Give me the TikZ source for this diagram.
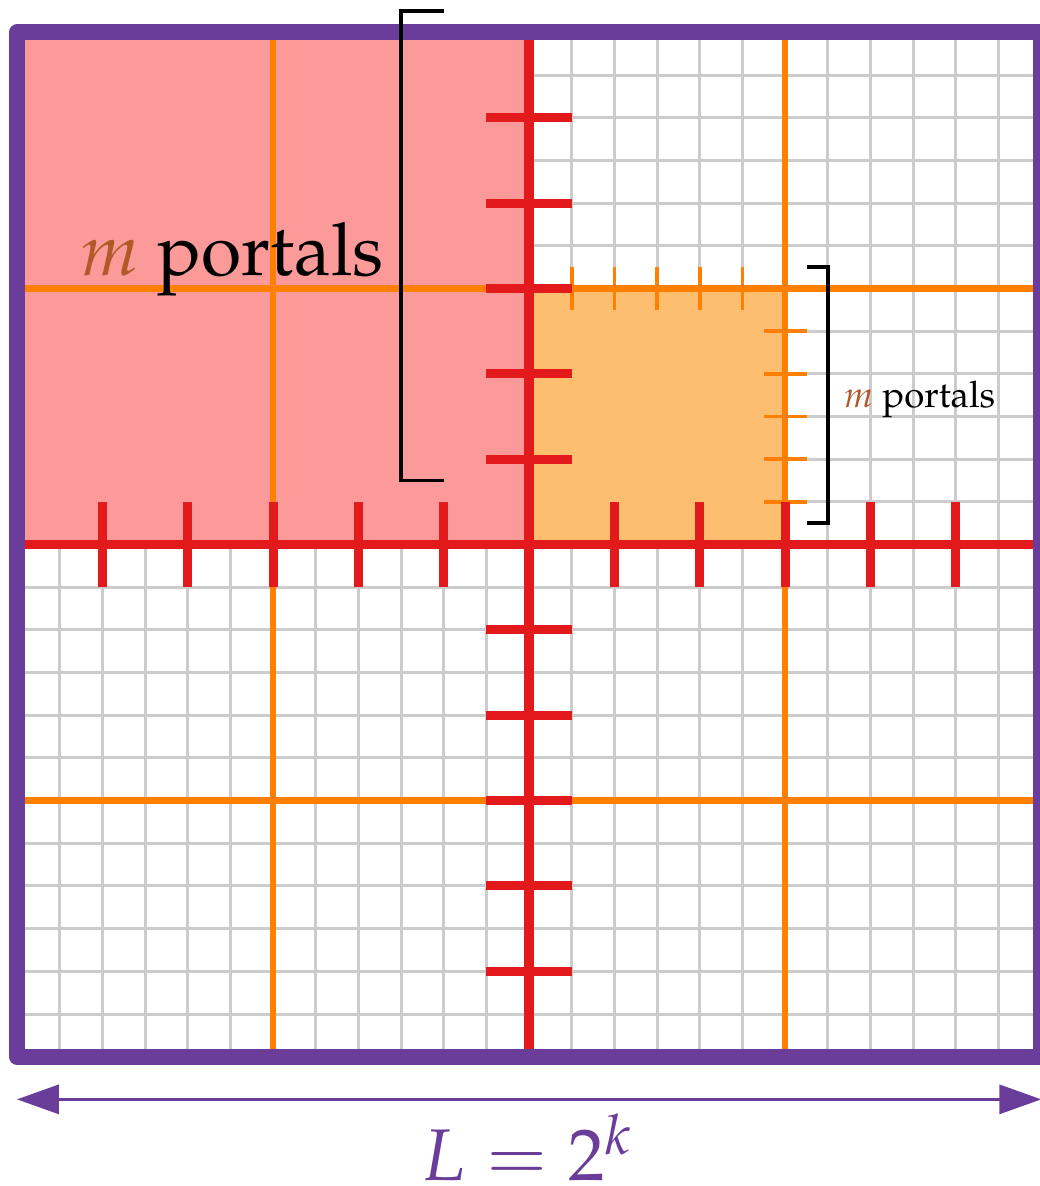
\documentclass[tikz,border=0pt]{standalone}
\usepackage[T1]{fontenc}
\usepackage{mathpazo}
\usepackage{tikz}
\usetikzlibrary{arrows.meta}
\definecolor{cpurple}{HTML}{6A3D9A}
\definecolor{cred}{HTML}{E31A1C}
\definecolor{corange}{HTML}{FF7F00}
\definecolor{cpink}{HTML}{FB9A99}
\definecolor{clight}{HTML}{FDBF6F}
\definecolor{cbrown}{HTML}{B15928}
\definecolor{cgrey}{HTML}{CCCCCC}
\tikzset{
  gl/.style = {draw=cgrey, line width=1pt},
  ol/.style = {draw=corange, line width=2.2pt},
  ot/.style = {draw=corange, line width=1.2pt},
  rl/.style = {draw=cred, line width=3.2pt},
  rt/.style = {draw=cred, line width=3pt},
  bd/.style = {draw=cpurple, line width=5.3pt, line join=round},
  br/.style = {draw=black, line width=1.2pt},
  lbl/.style = {inner sep=0pt, font=\fontsize{24.4}{29}\selectfont},
  slbl/.style = {inner sep=0pt, font=\fontsize{12.2}{15}\selectfont},
  arrow/.style = {cpurple, line width=1pt, {Triangle[length=0.49cm, width=0.34cm]}-{Triangle[length=0.49cm, width=0.34cm]}}
}

\begin{document}
\begin{tikzpicture}[x=0.5cm, y=0.5cm]
  \useasboundingbox (-0.398,-3.03) rectangle (23.97,24.76);
  % grid
  \foreach \i in {1,...,23} {
    \draw[gl] (\i,0) -- (\i,24);
    \draw[gl] (0,\i) -- (24,\i);
  }
  % shaded cells
  \fill[cpink] (0,12) rectangle (12,24);
  \fill[clight] (12,12) rectangle (18,18);
  % orange dissection lines
  \foreach \i in {6,18} {
    \draw[ol] (\i,0) -- (\i,24);
    \draw[ol] (0,\i) -- (24,\i);
  }
  % small portals
  \foreach \i in {13,...,17} {
    \draw[ot] (\i,17.5) -- (\i,18.5);
    \draw[ot] (17.5,\i) -- (18.5,\i);
  }
  % red dissection lines
  \draw[rl] (12,0) -- (12,24);
  \draw[rl] (0,12) -- (24,12);
  % big portals
  \foreach \i in {2,4,6,8,10,14,16,18,20,22} {
    \draw[rt] (11,\i) -- (13,\i);
    \draw[rt] (\i,11) -- (\i,13);
  }
  % border
  \draw[bd] (0,0) rectangle (24,24);
  % brackets
  \coordinate (bt) at (9,24.5);
  \coordinate (bb) at (9,13.5);
  \draw[br] ([xshift=0.5cm]bt) -- (bt) -- (bb) -- ([xshift=0.5cm]bb);
  \coordinate (st) at (19,18.5);
  \coordinate (sb) at (19,12.5);
  \draw[br] ([xshift=-0.25cm]st) -- (st) -- (sb) -- ([xshift=-0.25cm]sb);
  % labels
  \node[lbl, anchor=base east] (big) at (8.6,18.3) {$\color{cbrown}m$ portals};
  \node[slbl, anchor=base west] (small) at (19.36,15.2) {$\color{cbrown}m$ portals};
  % side length
  \coordinate (al) at (0,-1);
  \coordinate (ar) at (24,-1);
  \draw[arrow] (al) -- (ar);
  \node[lbl, anchor=base, text=cpurple] (len) at (11.95,-2.91) {$L = 2^k$};
\end{tikzpicture}
\end{document}
